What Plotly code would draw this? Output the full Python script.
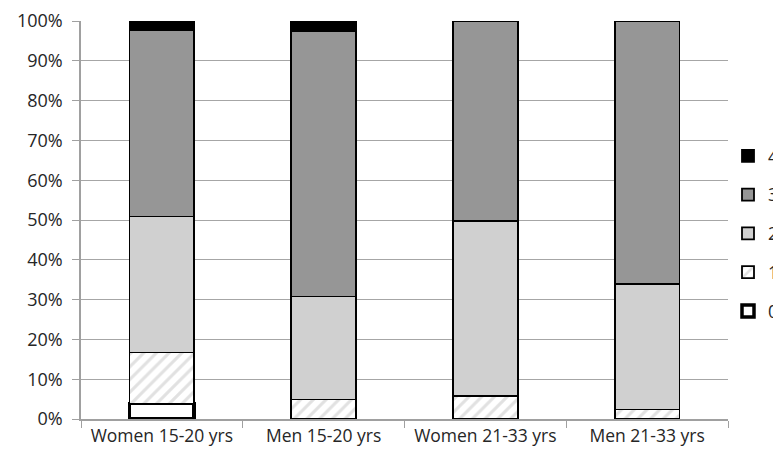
import plotly.graph_objects as go

categories = ["Women 15-20 yrs", "Men 15-20 yrs", "Women 21-33 yrs", "Men 21-33 yrs"]
series_names = ["0", "1", "2", "3", "4"]
v0 = [3.9, 0, 0, 0]
v1 = [12.8, 4.9, 5.8, 2.4]
v2 = [34.2, 25.9, 44.0, 31.6]
v3 = [46.8, 66.7, 50.2, 66.0]
v4 = [2.3, 2.5, 0, 0]
values = [v0, v1, v2, v3, v4]

fills = ["#ffffff", "#ffffff", "#d0d0d0", "#969696", "#000000"]
line_w = [3.5, 1.8, 1.8, 1.8, 1.8]

fig = go.Figure()
n = len(series_names)
for i, (name, vals) in enumerate(zip(series_names, values)):
    marker = dict(color=fills[i], line=dict(color="#000000", width=line_w[i]))
    if name == "1":
        marker["pattern"] = dict(shape="/", fgcolor="#c4c4c4", bgcolor="#ffffff", size=9, solidity=0.35)
    fig.add_trace(go.Bar(
        x=categories, y=vals, name=name, marker=marker,
        legendgroup=name, legendrank=n - i, width=0.4,
    ))

fig.update_layout(
    barmode="stack",
    width=773, height=443,
    margin=dict(l=73, r=53, t=13, b=32, autoexpand=False),
    paper_bgcolor="#ffffff", plot_bgcolor="#ffffff",
    font=dict(family="Open Sans, Liberation Sans, sans-serif", size=17.5, color="#262626"),
    legend=dict(x=1.0, y=0.466, xanchor="left", yanchor="middle",
                traceorder="grouped", tracegroupgap=13,
                font=dict(size=17.5), itemwidth=30),
    showlegend=True,
)
fig.update_yaxes(
    range=[0, 100], dtick=10, ticksuffix="%",
    showgrid=True, gridcolor="#a6a6a6", gridwidth=1.2,
    showline=True, linecolor="#a0a0a0", linewidth=1.5,
    ticks="outside", ticklen=7, tickcolor="#a0a0a0", tickwidth=1.2,
    ticklabelstandoff=6, tickfont=dict(size=18),
    zeroline=False,
)
fig.update_xaxes(
    showline=True, linecolor="#a0a0a0", linewidth=1.5,
    ticks="outside", tickson="boundaries", ticklen=7, tickcolor="#a0a0a0", tickwidth=1.2,
)

fig.write_html("out.html")
